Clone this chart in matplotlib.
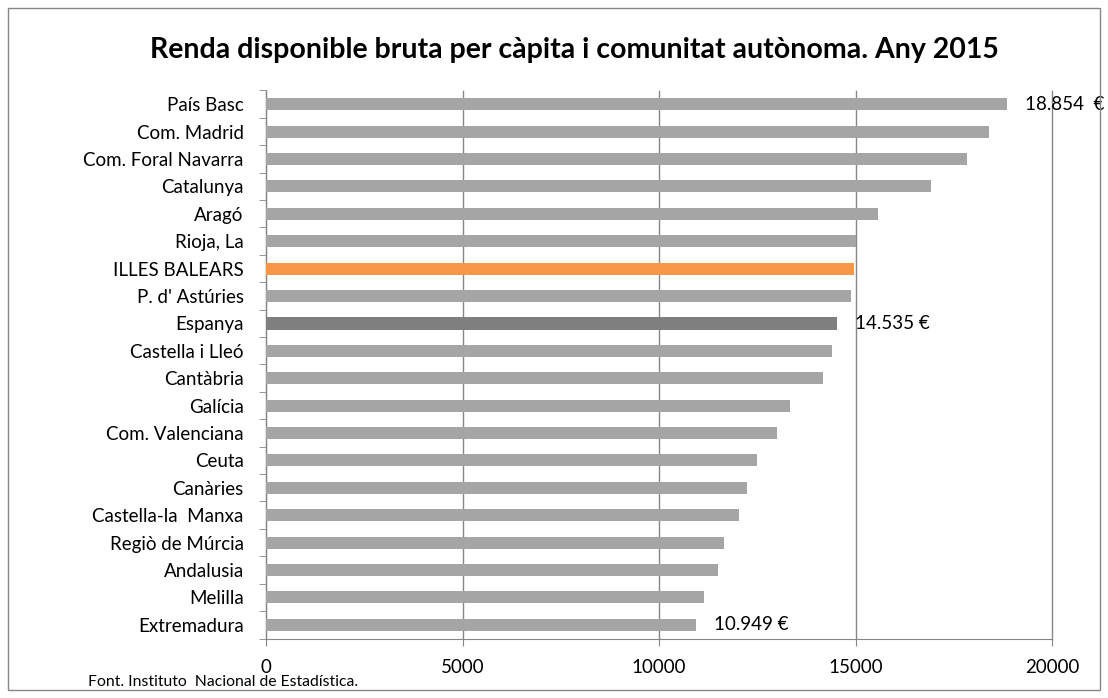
import matplotlib.pyplot as plt
from matplotlib.patches import Rectangle

plt.rcParams['font.family'] = ['Lato', 'DejaVu Sans']

regions = ["País Basc", "Com. Madrid", "Com. Foral Navarra", "Catalunya", "Aragó",
           "Rioja, La", "ILLES BALEARS", "P. d' Astúries", "Espanya", "Castella i Lleó",
           "Cantàbria", "Galícia", "Com. Valenciana", "Ceuta", "Canàries",
           "Castella-la  Manxa", "Regiò de Múrcia", "Andalusia", "Melilla", "Extremadura"]
renda = [18854, 18390, 17840, 16910, 15560, 15020, 14960, 14890, 14535, 14390,
         14180, 13340, 13000, 12500, 12250, 12030, 11660, 11490, 11150, 10949]
labels = {"País Basc": "18.854  €", "Espanya": "14.535 €", "Extremadura": "10.949 €"}

colors = []
for r in regions:
    if r == "ILLES BALEARS":
        colors.append('#F79646')
    elif r == "Espanya":
        colors.append('#7F7F7F')
    else:
        colors.append('#A5A5A5')

fig = plt.figure(figsize=(11.08, 6.98), dpi=100)
ax = fig.add_axes([266/1108, 1 - 638.5/698, (1052-266)/1108, (638.5-90.5)/698])

y = list(range(len(regions)))
heights = [0.48 if r == "Espanya" else 0.44 for r in regions]
ax.barh(y, renda, height=heights, color=colors, zorder=3)

ax.set_ylim(len(regions) - 0.5, -0.5)
ax.set_xlim(0, 20000)
ax.set_xticks([0, 5000, 10000, 15000, 20000])
ax.set_yticks(y)
ax.set_yticklabels(regions, fontsize=13.5)
ax.set_yticks([i - 0.5 for i in range(len(regions) + 1)], minor=True)
ax.tick_params(axis='y', which='major', length=0, pad=16)
ax.tick_params(axis='y', which='minor', length=5, color='#868686', direction='out')
ax.tick_params(axis='x', length=5, color='#868686', labelsize=13.5, pad=10)

ax.xaxis.grid(True, color='#868686', linewidth=1, zorder=0)
for g in ax.get_xgridlines():
    g.set_clip_on(False)
for s in ['top', 'right']:
    ax.spines[s].set_visible(False)
for s in ['left', 'bottom']:
    ax.spines[s].set_color('#868686')

for i, r in enumerate(regions):
    if r in labels:
        ax.annotate(labels[r], xy=(renda[i], i), xytext=(13, 0), textcoords='offset points',
                    va='center', ha='left', fontsize=13.5, clip_on=False, zorder=4)

fig.text(574/1108, 1 - 50/698, "Renda disponible bruta per càpita i comunitat autònoma. Any 2015",
         ha='center', va='center', fontsize=20.5, fontweight='bold')
fig.text(88/1108, 1 - 682/698, "Font. Instituto  Nacional de Estadística.", ha='left', va='center',
         fontsize=11.3)

fig.patches.append(Rectangle((8/1108, 8/698), 1 - 16/1108, 1 - 16/698, transform=fig.transFigure,
                             fill=False, edgecolor='#868686', linewidth=1))

fig.savefig('out.png', dpi=100)
